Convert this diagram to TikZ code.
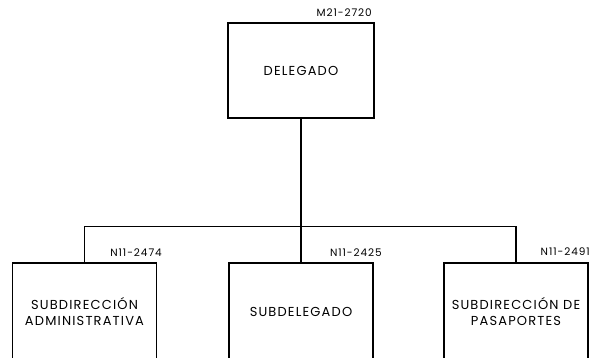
\documentclass[tikz,border=0pt]{standalone}
\usepackage{fontspec}
\setmainfont{Poppins}[LetterSpace=9]
\begin{document}
\begin{tikzpicture}[x=1pt,y=-1pt,
  box/.style={draw, line width=1.6pt, minimum width=144pt, minimum height=97pt, align=center, inner sep=0pt, font=\fontsize{13}{16}\selectfont},
  code/.style={font=\fontsize{10.5}{12}\selectfont, anchor=east, inner sep=0pt},
  link/.style={line width=1.6pt}]
\useasboundingbox (0,0) rectangle (589,358);
\clip (0,0) rectangle (589,358);
\node[box, minimum width=146pt, minimum height=95pt] (del) at (301,70.5) {DELEGADO};
\node[box] (adm) at (84.5,311.5) {SUBDIRECCIÓN\\ADMINISTRATIVA};
\node[box] (sub) at (301,311.5) {SUBDELEGADO};
\node[box] (pas) at (516,311.5) {SUBDIRECCIÓN DE\\PASAPORTES};
\node[code] (c1) at (372,13) {M21-2720};
\node[code] (c2) at (162,253) {N11-2474};
\node[code] (c3) at (382,253) {N11-2425};
\node[code] (c4) at (590,252) {N11-2491};
\coordinate (bus) at (301,226.5);
\draw[link] (del.south) -- (del.south |- bus);
\draw[link] (adm.north) -- (adm.north |- bus) -| (pas.north);
\draw[link] (sub.north) -- (sub.north |- bus);
\end{tikzpicture}
\end{document}
